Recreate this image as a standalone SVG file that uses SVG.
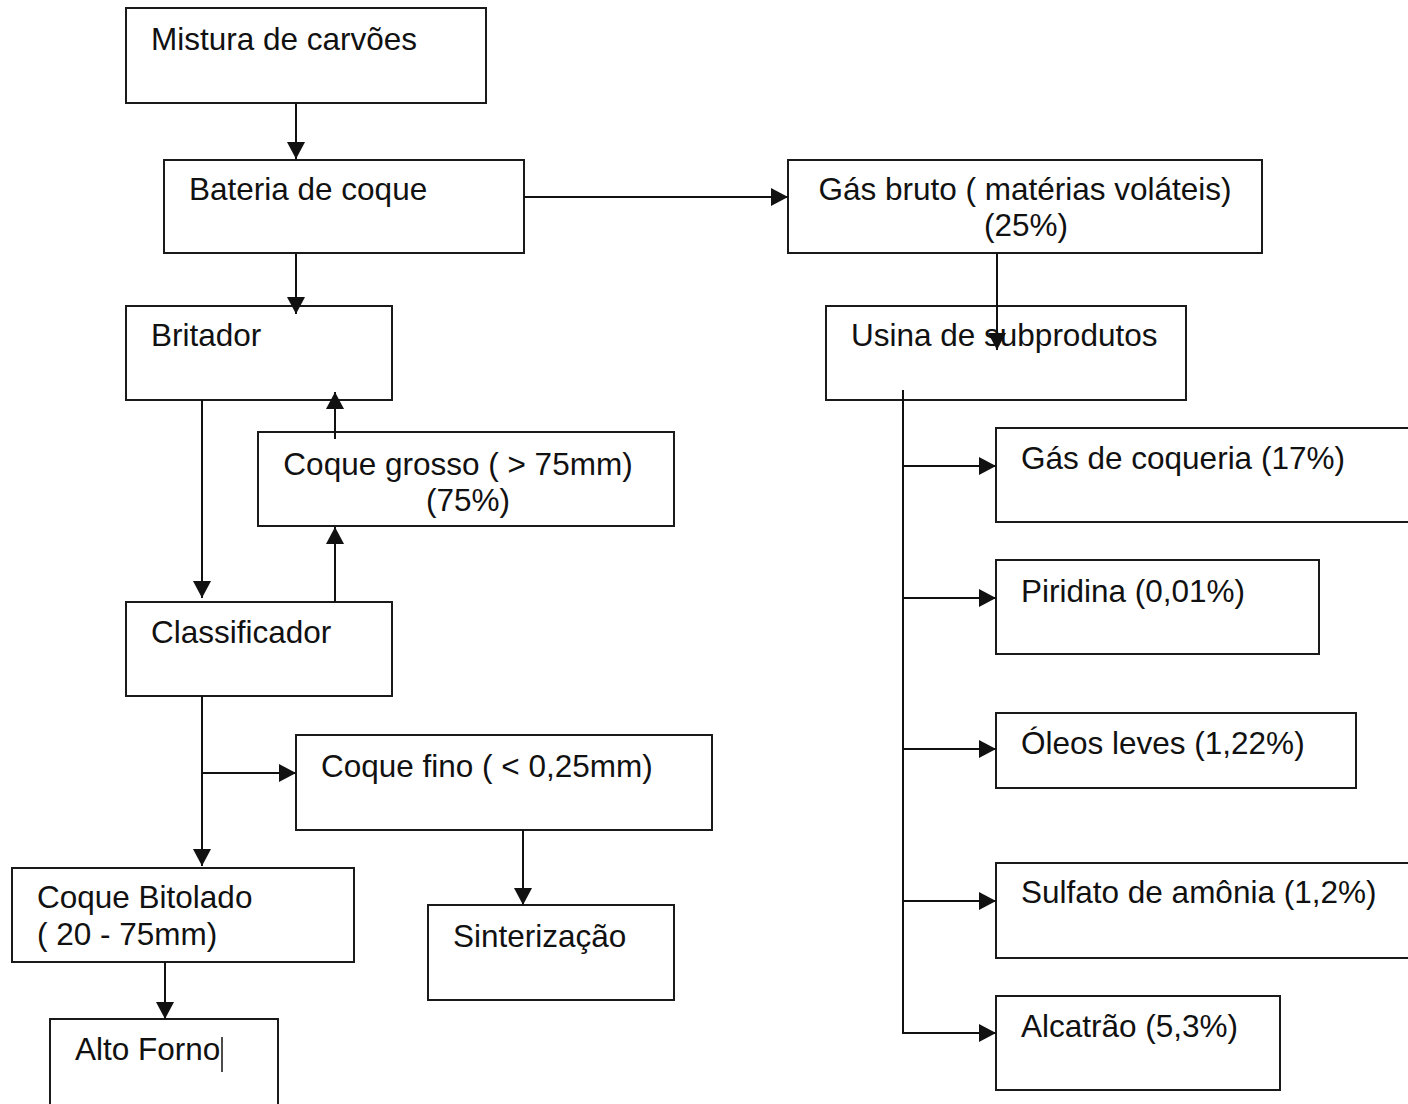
<svg xmlns="http://www.w3.org/2000/svg" width="1408" height="1104" viewBox="0 0 1408 1104">
<style>
.box{fill:#fff;stroke:#1a1a1a;stroke-width:2}
.t{font-family:"Liberation Sans",Arial,sans-serif;font-size:31.5px;fill:#111}
.c{fill:none;stroke:#111;stroke-width:2}
</style>
<defs>
<marker id="ah" markerUnits="userSpaceOnUse" markerWidth="18" markerHeight="18" refX="17" refY="9" orient="auto">
<path d="M0,0 L17,9 L0,18 Z" fill="#111"/>
</marker>
</defs>
<rect width="1408" height="1104" fill="#fff"/>
<g id="n-mistura"><rect class="box" x="126" y="8" width="360" height="95"/><text class="t" x="151" y="50">Mistura de carvões</text></g>
<g id="n-bateria"><rect class="box" x="164" y="160" width="360" height="93"/><text class="t" x="189" y="200">Bateria de coque</text></g>
<g id="n-gas"><rect class="box" x="788" y="160" width="474" height="93"/><text class="t" x="1025" y="200" text-anchor="middle">Gás bruto ( matérias voláteis)</text><text class="t" x="1026" y="236" text-anchor="middle">(25%)</text></g>
<g id="n-usina"><rect class="box" x="826" y="306" width="360" height="94"/><text class="t" x="851" y="346">Usina de subprodutos</text></g>
<g id="n-britador"><rect class="box" x="126" y="306" width="266" height="94"/><text class="t" x="151" y="346">Britador</text></g>
<g id="n-grosso"><rect class="box" x="258" y="432" width="416" height="94"/><text class="t" x="458" y="475" text-anchor="middle">Coque grosso ( &gt; 75mm)</text><text class="t" x="468" y="511" text-anchor="middle">(75%)</text></g>
<g id="n-classificador"><rect class="box" x="126" y="602" width="266" height="94"/><text class="t" x="151" y="643">Classificador</text></g>
<g id="n-fino"><rect class="box" x="296" y="735" width="416" height="95"/><text class="t" x="321" y="777">Coque fino ( &lt; 0,25mm)</text></g>
<g id="n-sinter"><rect class="box" x="428" y="905" width="246" height="95"/><text class="t" x="453" y="947">Sinterização</text></g>
<g id="n-bitolado"><rect class="box" x="12" y="868" width="342" height="94"/><text class="t" x="37" y="908">Coque Bitolado</text><text class="t" x="37" y="945">( 20 - 75mm)</text></g>
<g id="n-alto"><rect class="box" x="50" y="1019" width="228" height="100"/><text class="t" x="75" y="1060">Alto Forno</text><line x1="222" y1="1037" x2="222" y2="1072" stroke="#111" stroke-width="1.5"/></g>
<g id="n-gascoq"><rect class="box" x="996" y="428" width="430" height="94"/><text class="t" x="1021" y="469">Gás de coqueria (17%)</text></g>
<g id="n-piridina"><rect class="box" x="996" y="560" width="323" height="94"/><text class="t" x="1021" y="602">Piridina (0,01%)</text></g>
<g id="n-oleos"><rect class="box" x="996" y="713" width="360" height="75"/><text class="t" x="1021" y="754">Óleos leves (1,22%)</text></g>
<g id="n-sulfato"><rect class="box" x="996" y="863" width="430" height="95"/><text class="t" x="1021" y="903">Sulfato de amônia (1,2%)</text></g>
<g id="n-alcatrao"><rect class="box" x="996" y="996" width="284" height="94"/><text class="t" x="1021" y="1037">Alcatrão (5,3%)</text></g>
<g id="connectors">
<line class="c" x1="296" y1="103" x2="296" y2="159" marker-end="url(#ah)"/>
<line class="c" x1="296" y1="253" x2="296" y2="314" marker-end="url(#ah)"/>
<line class="c" x1="524" y1="197" x2="788" y2="197" marker-end="url(#ah)"/>
<line class="c" x1="997" y1="253" x2="997" y2="350" marker-end="url(#ah)"/>
<line class="c" x1="202" y1="400" x2="202" y2="598" marker-end="url(#ah)"/>
<line class="c" x1="335" y1="602" x2="335" y2="527" marker-end="url(#ah)"/>
<line class="c" x1="335" y1="439" x2="335" y2="392" marker-end="url(#ah)"/>
<line class="c" x1="202" y1="696" x2="202" y2="866" marker-end="url(#ah)"/>
<line class="c" x1="202" y1="773" x2="296" y2="773" marker-end="url(#ah)"/>
<line class="c" x1="523" y1="830" x2="523" y2="905" marker-end="url(#ah)"/>
<line class="c" x1="165" y1="962" x2="165" y2="1019" marker-end="url(#ah)"/>
<polyline class="c" points="903,390 903,1034"/>
<line class="c" x1="903" y1="466" x2="996" y2="466" marker-end="url(#ah)"/>
<line class="c" x1="903" y1="598" x2="996" y2="598" marker-end="url(#ah)"/>
<line class="c" x1="903" y1="749" x2="996" y2="749" marker-end="url(#ah)"/>
<line class="c" x1="903" y1="901" x2="996" y2="901" marker-end="url(#ah)"/>
<line class="c" x1="903" y1="1033" x2="996" y2="1033" marker-end="url(#ah)"/>
</g>
</svg>
